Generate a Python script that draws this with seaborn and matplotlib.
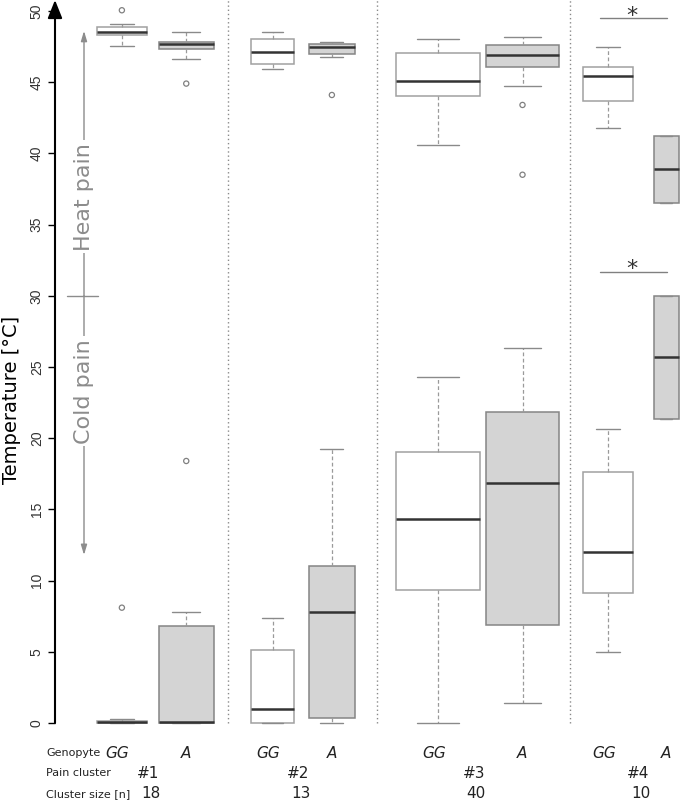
import numpy as np
import matplotlib
matplotlib.use("Agg")
import matplotlib.pyplot as plt
import matplotlib.transforms as mtransforms
import seaborn as sns

# pain clusters and their sizes
clusters = ["#1", "#2", "#3", "#4"]
cluster_sizes = [18, 13, 40, 10]
genotypes = ["GG", "A"]
# n per genotype inside each cluster (box width ~ sqrt(n), like R varwidth)
group_n = [8, 10, 6, 7, 23, 17, 8, 2]

# [lower whisker, Q1, median, Q3, upper whisker] for GG1, A1, GG2, A2, GG3, A3, GG4, A4
heat_box = [
    [47.55, 48.30, 48.50, 48.85, 49.05],
    [46.65, 47.30, 47.65, 47.80, 48.50],
    [45.90, 46.25, 47.10, 48.00, 48.50],
    [46.80, 47.00, 47.50, 47.65, 47.80],
    [40.60, 44.05, 45.05, 47.05, 48.00],
    [44.70, 46.10, 46.90, 47.60, 48.15],
    [41.80, 43.65, 45.45, 46.10, 47.45],
    [36.50, 36.50, 38.90, 41.25, 41.25],
]
cold_box = [
    [0.00, 0.00, 0.05, 0.15, 0.30],
    [0.00, 0.00, 0.05, 6.80, 7.80],
    [0.00, 0.00, 1.00, 5.10, 7.35],
    [0.00, 0.35, 7.80, 11.05, 19.25],
    [0.00, 9.35, 14.35, 19.00, 24.30],
    [1.40, 6.85, 16.85, 21.85, 26.30],
    [5.00, 9.10, 12.00, 17.65, 20.65],
    [21.35, 21.35, 25.70, 30.00, 30.00],
]
# outliers: (box index, value)
outlier_box = [0, 1, 3, 5, 5, 0, 1]
outlier_val = [50.05, 44.9, 44.1, 43.4, 38.5, 8.1, 18.4]

# significance bars (cluster 4, GG vs A)
sig_line_y = [49.5, 31.7]
sig_star_y = [50.0, 32.2]

# layout (x axis runs 0..10 across the plot)
box_x = [1.07, 2.10, 3.48, 4.43, 6.13, 7.48, 8.85, 9.78]
dividers = [2.77, 5.15, 8.24]
cluster_label_x = [1.49, 3.89, 6.70, 9.33]

sns.set_theme(style="white")
plt.rcParams["font.family"] = ["DejaVu Sans"]

fig = plt.figure(figsize=(6.8, 8), dpi=100)
ax = fig.add_axes([55 / 680, 70 / 800, 625 / 680, 730 / 800])

for i, pos in enumerate(box_x):
    gg = i % 2 == 0
    fill = "white" if gg else "#d4d4d4"
    edge = "#a0a0a0" if gg else "#858585"
    w = 0.28 * np.sqrt(group_n[i])
    for stats in (heat_box[i], cold_box[i]):
        sns.boxplot(
            x=[pos] * len(stats), y=stats, native_scale=True, orient="x",
            width=w, whis=(0, 100), color=fill, saturation=1,
            linecolor=edge, linewidth=1.1, showfliers=False,
            medianprops=dict(color="#333333", linewidth=1.8),
            whiskerprops=dict(color="#9a9a9a", linewidth=0.9, linestyle=(0, (3, 2))),
            capprops=dict(color="#8a8a8a", linewidth=1.0),
            ax=ax,
        )

sns.scatterplot(
    x=[box_x[b] for b in outlier_box], y=outlier_val, marker="o", s=14,
    facecolor="none", edgecolor="#808080", linewidth=0.9, ax=ax,
)

ax.set_xlim(0, 10)
ax.set_ylim(-0.49, 50.77)
for s in ax.spines.values():
    s.set_visible(False)

# cluster separators
ax.vlines(dividers, 0, 50.77, colors="#8a8a8a", linestyles=(0, (1, 2)), linewidth=1)

# significance marks for cluster 4
for yl, ys in zip(sig_line_y, sig_star_y):
    ax.plot([8.72, 9.79], [yl, yl], color="#808080", lw=1)
    ax.text(9.232, ys - 0.75, "*", ha="center", va="baseline", fontsize=16, color="#333333")

# y axis with arrow head
ax.annotate("", xy=(0, 50.77), xytext=(0, 0),
            arrowprops=dict(arrowstyle="-|>,head_length=0.55,head_width=0.22",
                            mutation_scale=20, color="black", lw=1.5,
                            shrinkA=0, shrinkB=0),
            annotation_clip=False)
ax.set_yticks(range(0, 51, 5))
ax.set_xticks([])
ax.tick_params(axis="y", left=True, length=5, width=1, color="black",
               labelsize=10, labelcolor="#333333", pad=3, labelrotation=90)
for lab in ax.get_yticklabels():
    lab.set_va("center")
    lab.set_family("Liberation Sans")

fig.text(12 / 680, 1 - 400 / 800, "Temperature [°C]", rotation=90,
         ha="center", va="center", fontsize=14, color="black")

# heat / cold pain guide
gx = 0.464
gray = "#8c8c8c"
ax.annotate("", xy=(gx, 48.6), xytext=(gx, 30),
            arrowprops=dict(arrowstyle="-|>,head_length=0.5,head_width=0.15",
                            mutation_scale=12, color=gray, lw=1, shrinkA=0, shrinkB=0))
ax.annotate("", xy=(gx, 11.8), xytext=(gx, 30),
            arrowprops=dict(arrowstyle="-|>,head_length=0.5,head_width=0.15",
                            mutation_scale=12, color=gray, lw=1, shrinkA=0, shrinkB=0))
ax.plot([0.19, 0.69], [30, 30], color=gray, lw=1)
for txt, yc in (("Heat pain", 36.95), ("Cold pain", 23.3)):
    ax.text(gx, yc, txt, rotation=90, ha="center", va="center", fontsize=16,
            color=gray, bbox=dict(facecolor="white", edgecolor="none", pad=2))

# table under the plot
tr = mtransforms.blended_transform_factory(ax.transData, fig.transFigure)
rows_y = [1 - 753 / 800, 1 - 773 / 800, 1 - 794 / 800]
for lab, yy in zip(["Genopyte", "Pain cluster", "Cluster size [n]"], rows_y):
    fig.text(46 / 680, yy, lab, ha="left", va="center", fontsize=8, color="#222222")
for i, pos in enumerate(box_x):
    shift = -0.07 if i % 2 == 0 else 0.0
    ax.text(pos + shift, rows_y[0], genotypes[i % 2], transform=tr, ha="center",
            va="center", fontsize=11, style="italic", color="#222222")
for c, n, xc in zip(clusters, cluster_sizes, cluster_label_x):
    ax.text(xc, rows_y[1], c, transform=tr, ha="center", va="center",
            fontsize=11, color="#222222")
    ax.text(xc + 0.04, rows_y[2], str(n), transform=tr, ha="center", va="center",
            fontsize=11, color="#222222")

fig.savefig("out.png", dpi=100)
